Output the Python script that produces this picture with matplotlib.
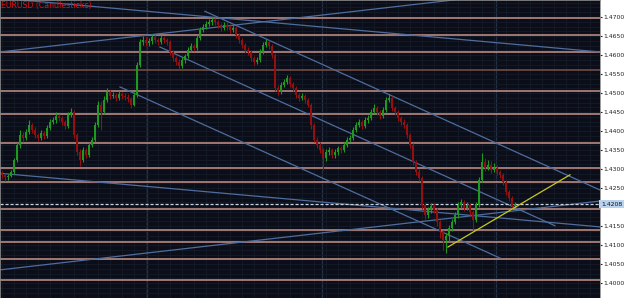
import matplotlib
matplotlib.use("Agg")
import matplotlib.pyplot as plt
import matplotlib.transforms as mtransforms

# --- data (H4-style EURUSD candles) ---
symbol_title = "EURUSD (Candlesticks)"
first_open = 1.4290
closes = [
    1.4284, 1.4279, 1.4282, 1.4292, 1.4324, 1.4363, 1.4390, 1.4382, 1.4398, 1.4416,
    1.4403, 1.4390, 1.4382, 1.4395, 1.4387, 1.4408, 1.4424, 1.4429, 1.4440, 1.4434,
    1.4424, 1.4413, 1.4442, 1.4450, 1.4390, 1.4345, 1.4324, 1.4350, 1.4337, 1.4363,
    1.4377, 1.4416, 1.4469, 1.4450, 1.4482, 1.4503, 1.4492, 1.4495, 1.4487, 1.4498,
    1.4492, 1.4490, 1.4484, 1.4469, 1.4495, 1.4574, 1.4634, 1.4640, 1.4632, 1.4637,
    1.4647, 1.4640, 1.4634, 1.4645, 1.4640, 1.4634, 1.4608, 1.4592, 1.4582, 1.4571,
    1.4587, 1.4597, 1.4613, 1.4624, 1.4618, 1.4645, 1.4666, 1.4674, 1.4682, 1.4687,
    1.4692, 1.4687, 1.4679, 1.4671, 1.4679, 1.4674, 1.4666, 1.4671, 1.4653, 1.4640,
    1.4626, 1.4613, 1.4608, 1.4592, 1.4582, 1.4587, 1.4608, 1.4626, 1.4634, 1.4624,
    1.4600, 1.4513, 1.4503, 1.4521, 1.4529, 1.4540, 1.4524, 1.4513, 1.4495, 1.4487,
    1.4492, 1.4482, 1.4469, 1.4416, 1.4377, 1.4363, 1.4350, 1.4329, 1.4345, 1.4350,
    1.4337, 1.4345, 1.4355, 1.4350, 1.4363, 1.4377, 1.4382, 1.4403, 1.4416, 1.4424,
    1.4413, 1.4429, 1.4434, 1.4450, 1.4461, 1.4450, 1.4440, 1.4455, 1.4482, 1.4487,
    1.4461, 1.4450, 1.4434, 1.4424, 1.4416, 1.4390, 1.4363, 1.4319, 1.4292, 1.4277,
    1.4206, 1.4179, 1.4192, 1.4203, 1.4192, 1.4161, 1.4135, 1.4114, 1.4124, 1.4145,
    1.4161, 1.4179, 1.4206, 1.4213, 1.4198, 1.4206, 1.4187, 1.4166, 1.4206, 1.4271,
    1.4319, 1.4303, 1.4311, 1.4298, 1.4303, 1.4292, 1.4284, 1.4266, 1.4240, 1.4224,
    1.4203, 1.4208,
]
highs = [
    1.4296, 1.4290, 1.4288, 1.4298, 1.4330, 1.4370, 1.4402, 1.4398, 1.4405, 1.4428,
    1.4422, 1.4410, 1.4396, 1.4402, 1.4400, 1.4415, 1.4432, 1.4438, 1.4450, 1.4446,
    1.4440, 1.4430, 1.4450, 1.4460, 1.4456, 1.4395, 1.4352, 1.4358, 1.4356, 1.4370,
    1.4385, 1.4425, 1.4478, 1.4480, 1.4492, 1.4512, 1.4508, 1.4503, 1.4500, 1.4506,
    1.4504, 1.4500, 1.4497, 1.4490, 1.4502, 1.4582, 1.4642, 1.4650, 1.4648, 1.4645,
    1.4656, 1.4653, 1.4646, 1.4652, 1.4650, 1.4646, 1.4640, 1.4614, 1.4598, 1.4590,
    1.4594, 1.4604, 1.4620, 1.4632, 1.4630, 1.4652, 1.4674, 1.4682, 1.4690, 1.4696,
    1.4700, 1.4698, 1.4693, 1.4685, 1.4686, 1.4688, 1.4680, 1.4678, 1.4676, 1.4658,
    1.4645, 1.4632, 1.4620, 1.4612, 1.4598, 1.4594, 1.4615, 1.4633, 1.4642, 1.4640,
    1.4630, 1.4606, 1.4522, 1.4528, 1.4536, 1.4547, 1.4546, 1.4530, 1.4518, 1.4500,
    1.4500, 1.4497, 1.4488, 1.4474, 1.4420, 1.4384, 1.4370, 1.4356, 1.4352, 1.4358,
    1.4356, 1.4352, 1.4362, 1.4362, 1.4370, 1.4384, 1.4390, 1.4410, 1.4424, 1.4432,
    1.4430, 1.4437, 1.4442, 1.4458, 1.4470, 1.4467, 1.4455, 1.4462, 1.4490, 1.4497,
    1.4492, 1.4467, 1.4455, 1.4440, 1.4432, 1.4421, 1.4395, 1.4368, 1.4325, 1.4300,
    1.4282, 1.4212, 1.4200, 1.4212, 1.4210, 1.4198, 1.4166, 1.4140, 1.4132, 1.4152,
    1.4170, 1.4188, 1.4214, 1.4222, 1.4220, 1.4214, 1.4212, 1.4192, 1.4214, 1.4280,
    1.4342, 1.4330, 1.4325, 1.4320, 1.4316, 1.4310, 1.4298, 1.4290, 1.4272, 1.4246,
    1.4230, 1.4214,
]
lows = [
    1.4276, 1.4270, 1.4272, 1.4278, 1.4288, 1.4318, 1.4355, 1.4372, 1.4376, 1.4392,
    1.4396, 1.4382, 1.4374, 1.4377, 1.4380, 1.4383, 1.4402, 1.4418, 1.4422, 1.4426,
    1.4416, 1.4405, 1.4408, 1.4436, 1.4382, 1.4336, 1.4308, 1.4318, 1.4330, 1.4332,
    1.4358, 1.4372, 1.4410, 1.4402, 1.4445, 1.4476, 1.4485, 1.4486, 1.4478, 1.4482,
    1.4485, 1.4483, 1.4476, 1.4460, 1.4465, 1.4490, 1.4568, 1.4626, 1.4624, 1.4625,
    1.4630, 1.4632, 1.4626, 1.4628, 1.4632, 1.4627, 1.4600, 1.4584, 1.4574, 1.4563,
    1.4566, 1.4580, 1.4592, 1.4607, 1.4610, 1.4612, 1.4640, 1.4660, 1.4668, 1.4676,
    1.4680, 1.4680, 1.4672, 1.4664, 1.4666, 1.4667, 1.4658, 1.4660, 1.4645, 1.4632,
    1.4618, 1.4605, 1.4600, 1.4584, 1.4574, 1.4576, 1.4582, 1.4602, 1.4620, 1.4617,
    1.4592, 1.4505, 1.4495, 1.4498, 1.4515, 1.4523, 1.4517, 1.4506, 1.4488, 1.4480,
    1.4482, 1.4475, 1.4462, 1.4405, 1.4370, 1.4355, 1.4342, 1.4297, 1.4322, 1.4338,
    1.4330, 1.4330, 1.4338, 1.4342, 1.4344, 1.4357, 1.4370, 1.4376, 1.4397, 1.4410,
    1.4405, 1.4408, 1.4422, 1.4428, 1.4445, 1.4443, 1.4432, 1.4435, 1.4450, 1.4476,
    1.4453, 1.4442, 1.4426, 1.4416, 1.4408, 1.4382, 1.4355, 1.4310, 1.4284, 1.4268,
    1.4196, 1.4168, 1.4172, 1.4185, 1.4184, 1.4150, 1.4120, 1.4087, 1.4080, 1.4108,
    1.4138, 1.4155, 1.4172, 1.4198, 1.4190, 1.4192, 1.4180, 1.4139, 1.4160, 1.4200,
    1.4265, 1.4296, 1.4298, 1.4290, 1.4292, 1.4285, 1.4276, 1.4258, 1.4232, 1.4216,
    1.4195, 1.4198,
]

# horizontal support / resistance levels
level_prices = [1.4697, 1.4653, 1.4608, 1.4561, 1.4505, 1.4445, 1.4369,
                1.4303, 1.4266, 1.4195, 1.4140, 1.4108, 1.4064, 1.4008]

# trend lines as (bar index, price) end points
trend_start = [(-0.5, 1.4608), (6.2, 1.4745), (67.8, 1.4715), (52.8, 1.4621),
               (39.5, 1.4516), (-0.5, 1.4289), (-0.5, 1.4035)]
trend_end = [(151.0, 1.4745), (199.5, 1.4608), (199.5, 1.4245), (184.5, 1.4151),
             (166.2, 1.4066), (199.5, 1.4148), (199.5, 1.4216)]
yellow_start = (148.8, 1.4095)
yellow_end = (189.5, 1.4285)

current_price = 1.4208
tick_prices = [1.4000, 1.4050, 1.4100, 1.4150, 1.4250, 1.4300, 1.4350,
               1.4400, 1.4450, 1.4500, 1.4550, 1.4600, 1.4650, 1.4700]

# --- figure ---
fig = plt.figure(figsize=(6.25, 2.98), dpi=100, facecolor="white")
ax = fig.add_axes([0, 0, 0.96, 1.0])
ax.set_facecolor("#0b0e18")
ax.set_xlim(-0.5, 199.5)
ax.set_ylim(1.3961, 1.47447)

# faint grid
for gx in range(0, 200, 4):
    ax.axvline(gx, color="#151a28", lw=0.6, zorder=0)
for gx in (48.5, 106.8, 164.8):
    ax.axvline(gx, color="#243044", lw=0.9, zorder=0)
gp = 1.3975
while gp < 1.475:
    ax.axhline(gp, color="#151a28", lw=0.6, zorder=0)
    gp += 0.00125

# levels
for i, lp in enumerate(level_prices):
    c = "#7a5048" if i == 3 else "#c8928a"
    ax.axhline(lp, color=c, lw=1.1, zorder=1)

# trend lines
for (x0, y0), (x1, y1) in zip(trend_start, trend_end):
    ax.plot([x0, x1], [y0, y1], color="#4e6d9e", lw=0.9, zorder=2)
ax.plot([yellow_start[0], yellow_end[0]], [yellow_start[1], yellow_end[1]],
        color="#c8c81e", lw=0.9, zorder=4)

# current price line
ax.axhline(current_price, color="#c8d4e4", lw=0.9, ls=(0, (2.5, 1.5)), zorder=2)

# candles
opens = [first_open] + closes[:-1]
for i in range(len(closes)):
    o, c, h, l = opens[i], closes[i], highs[i], lows[i]
    col = "#1f9a1f" if c >= o else "#941010"
    ax.vlines(i, l, h, color=col, lw=0.8, zorder=3)
    ax.bar(i, max(abs(c - o), 0.00008), bottom=min(o, c), width=0.62,
           color=col, lw=0, zorder=3)

ax.text(0.002, 0.995, symbol_title, transform=ax.transAxes, color="#e01010",
        fontsize=5.6, va="top", ha="left", zorder=5)

# right price axis
ax.yaxis.tick_right()
ax.set_yticks(tick_prices)
ax.set_yticklabels([f"{t:.4f}" for t in tick_prices])
ax.tick_params(axis="y", labelsize=4.4, colors="#222222", length=1.2, pad=1.0)
ax.set_xticks([])
for s in ax.spines.values():
    s.set_color("#8a8a8a")
    s.set_linewidth(0.6)

trans = mtransforms.blended_transform_factory(ax.transAxes, ax.transData)
ax.text(1.002, current_price, f"{current_price:.4f}", transform=trans,
        fontsize=4.4, color="#111111", va="center", ha="left", clip_on=False,
        bbox=dict(boxstyle="square,pad=0.3", fc="#b9d3ee", ec="none"))

fig.savefig("out.png", dpi=100, facecolor="white")
